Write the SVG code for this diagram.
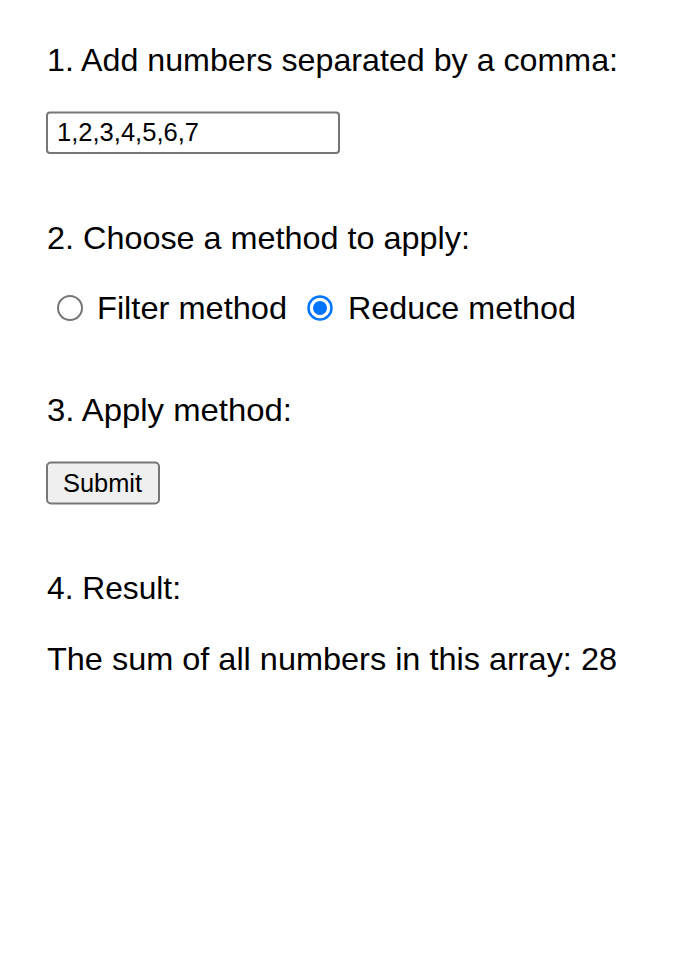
<svg xmlns="http://www.w3.org/2000/svg" width="679" height="968" viewBox="0 0 679 968">
<style>
.t{font-family:"Liberation Sans",Arial,Helvetica,sans-serif;font-size:32px;fill:#000}
.s{font-family:"Liberation Sans",Arial,Helvetica,sans-serif;font-size:26px;fill:#000}
.ctl{fill:#fff;stroke:#767676;stroke-width:2}
</style>
<rect width="679" height="968" fill="#fff"/>
<g id="step1">
<text class="t" x="47" y="71" textLength="571" lengthAdjust="spacingAndGlyphs">1. Add numbers separated by a comma:</text>
</g>
<g id="input">
<rect class="ctl" x="47" y="112.5" width="292" height="40.5" rx="3"/>
<text class="s" x="57" y="141" textLength="142" lengthAdjust="spacingAndGlyphs">1,2,3,4,5,6,7</text>
</g>
<g id="step2">
<text class="t" x="47" y="249" textLength="423" lengthAdjust="spacingAndGlyphs">2. Choose a method to apply:</text>
</g>
<g id="radio-filter">
<circle cx="70" cy="308" r="12" fill="#fff" stroke="#767676" stroke-width="2"/>
<text class="t" x="97" y="319" textLength="190" lengthAdjust="spacingAndGlyphs">Filter method</text>
</g>
<g id="radio-reduce">
<circle cx="320" cy="308" r="11.5" fill="#fff" stroke="#0075ff" stroke-width="2.5"/>
<circle cx="320" cy="308" r="7" fill="#0075ff"/>
<text class="t" x="348" y="319" textLength="228" lengthAdjust="spacingAndGlyphs">Reduce method</text>
</g>
<g id="step3">
<text class="t" x="47" y="421" textLength="245" lengthAdjust="spacingAndGlyphs">3. Apply method:</text>
</g>
<g id="submit">
<rect x="47" y="462.5" width="112" height="41" rx="4" fill="#efefef" stroke="#767676" stroke-width="2"/>
<text class="s" x="63" y="492" textLength="79" lengthAdjust="spacingAndGlyphs">Submit</text>
</g>
<g id="step4">
<text class="t" x="47" y="599" textLength="134" lengthAdjust="spacingAndGlyphs">4. Result:</text>
</g>
<g id="result">
<text class="t" x="47" y="670" textLength="570" lengthAdjust="spacingAndGlyphs">The sum of all numbers in this array: 28</text>
</g>
<g id="connectors"/>
</svg>
